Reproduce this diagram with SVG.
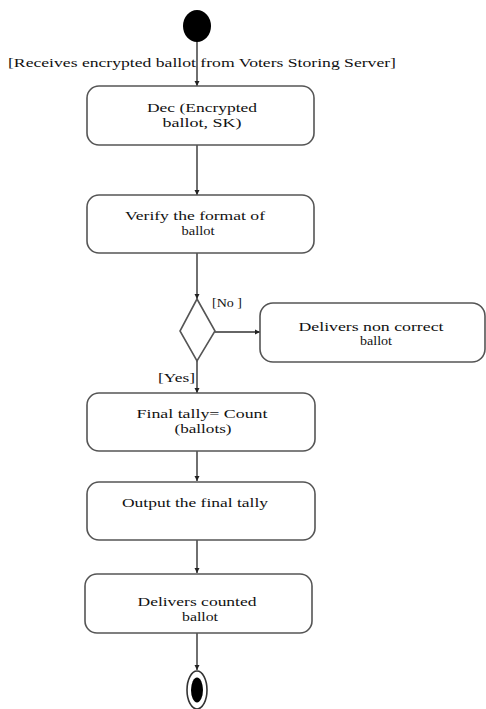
<svg xmlns="http://www.w3.org/2000/svg" width="486" height="709" viewBox="0 0 486 709">
<style>
.box{fill:#fff;stroke:#555;stroke-width:1.6}
.t{font-family:"Liberation Serif","Times New Roman",serif;font-size:13px;fill:#111}
.s{font-size:12px}
.c{text-anchor:middle}
.ln{stroke:#333;stroke-width:1.4;fill:none}
</style>
<defs>
<marker id="ah" markerWidth="6" markerHeight="6" refX="5" refY="3" orient="auto" markerUnits="userSpaceOnUse">
<path d="M0,0.5 L5,3 L0,5.5 Z" fill="#222"/>
</marker>
</defs>
<rect width="486" height="709" fill="#fff"/>
<g id="connectors">
<line class="ln" x1="197" y1="41" x2="197" y2="86" marker-end="url(#ah)"/>
<line class="ln" x1="197" y1="145" x2="197" y2="195" marker-end="url(#ah)"/>
<line class="ln" x1="197" y1="253" x2="197" y2="299" marker-end="url(#ah)"/>
<line class="ln" x1="215" y1="332" x2="260" y2="332" marker-end="url(#ah)"/>
<line class="ln" x1="197" y1="361" x2="197" y2="393" marker-end="url(#ah)"/>
<line class="ln" x1="197" y1="451" x2="197" y2="481" marker-end="url(#ah)"/>
<line class="ln" x1="197" y1="540" x2="197" y2="573" marker-end="url(#ah)"/>
<line class="ln" x1="197" y1="633" x2="197" y2="670" marker-end="url(#ah)"/>
<text class="t" x="8" y="67" textLength="388" lengthAdjust="spacingAndGlyphs">[Receives encrypted ballot from Voters Storing Server]</text>
<text class="t" x="212" y="307" textLength="30" lengthAdjust="spacingAndGlyphs">[No ]</text>
<text class="t" x="158" y="382" textLength="37" lengthAdjust="spacingAndGlyphs">[Yes]</text>
</g>
<g id="start"><ellipse cx="197" cy="26" rx="14" ry="16" fill="#000"/></g>
<g id="dec">
<rect class="box" x="87" y="86" width="227" height="59" rx="12"/>
<text class="t c" x="202" y="112" textLength="110" lengthAdjust="spacingAndGlyphs">Dec (Encrypted</text>
<text class="t c" x="202" y="127" textLength="79" lengthAdjust="spacingAndGlyphs">ballot, SK)</text>
</g>
<g id="verify">
<rect class="box" x="87" y="195" width="227" height="58" rx="12"/>
<text class="t c" x="195" y="220" textLength="140" lengthAdjust="spacingAndGlyphs">Verify the format of</text>
<text class="t c" x="198" y="235" textLength="33" lengthAdjust="spacingAndGlyphs">ballot</text>
</g>
<g id="decision">
<polygon points="197,299 215,331 197,361 180,331" fill="#fff" stroke="#555" stroke-width="1.6"/>
</g>
<g id="noncorrect">
<rect class="box" x="260" y="303" width="225" height="59" rx="13"/>
<text class="t s c" x="371" y="331" textLength="145" lengthAdjust="spacingAndGlyphs">Delivers non correct</text>
<text class="t s c" x="376" y="345" textLength="32" lengthAdjust="spacingAndGlyphs">ballot</text>
</g>
<g id="tally">
<rect class="box" x="87" y="393" width="228" height="58" rx="12"/>
<text class="t c" x="202" y="418" textLength="131" lengthAdjust="spacingAndGlyphs">Final tally= Count</text>
<text class="t c" x="203" y="433" textLength="57" lengthAdjust="spacingAndGlyphs">(ballots)</text>
</g>
<g id="output">
<rect class="box" x="87" y="482" width="228" height="58" rx="12"/>
<text class="t c" x="195" y="507" textLength="146" lengthAdjust="spacingAndGlyphs">Output the final tally</text>
</g>
<g id="counted">
<rect class="box" x="85" y="574" width="227" height="59" rx="12"/>
<text class="t c" x="197" y="606" textLength="119" lengthAdjust="spacingAndGlyphs">Delivers counted</text>
<text class="t c" x="200" y="621" textLength="36" lengthAdjust="spacingAndGlyphs">ballot</text>
</g>
<g id="end">
<ellipse cx="197" cy="690" rx="10" ry="19" fill="#fff" stroke="#333" stroke-width="1.6"/>
<ellipse cx="197" cy="690" rx="6" ry="12.5" fill="#000"/>
</g>
</svg>
